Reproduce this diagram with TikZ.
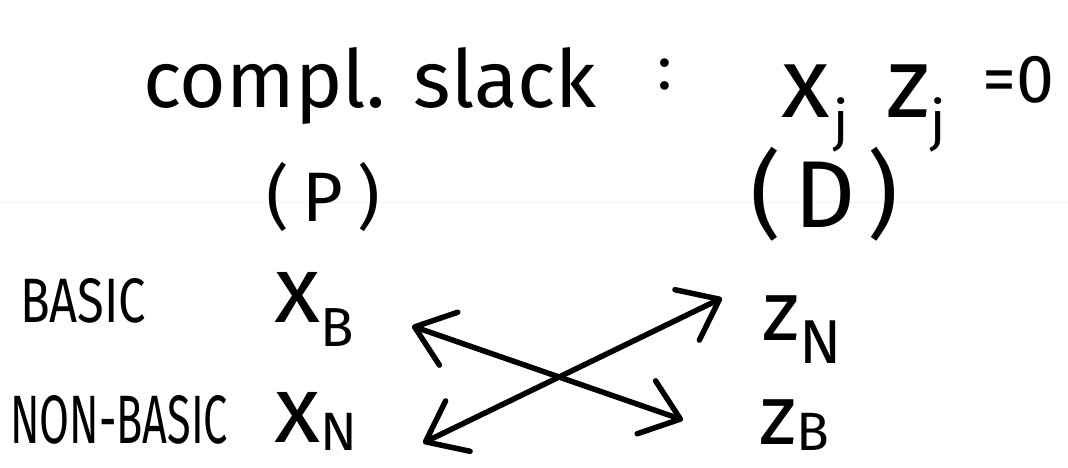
\documentclass[tikz,border=0pt]{standalone}
\usepackage{graphicx}
\usepackage{fontspec}
\setmainfont{Fira Sans}
\usetikzlibrary{arrows.meta}
\newcommand\fs[1]{\fontsize{#1}{#1}\selectfont}
\newcommand\mainv[2]{{\fs{#1}#2}}
\newcommand\subv[3]{\raisebox{#1}{\fs{#2}#3}}
\tikzset{
  lbl/.style={inner sep=0pt, outer sep=0pt, anchor=base west, text=black},
  link/.style={line width=5.5pt, line cap=round, line join=round,
    {Straight Barb[length=36pt,width=56pt,round]}-{Straight Barb[length=36pt,width=56pt,round]}},
}
\begin{document}
\begin{tikzpicture}[x=1pt,y=-1pt]
\fill[white] (0,0) rectangle (1068,468);
\useasboundingbox (0,0) rectangle (1068,468);
\draw[black!4, line width=1pt] (0,202) -- (1068,202);
% title
\node[lbl] (title) at (143,108) {\fs{80}compl. slack};
\node[lbl] (colon) at (657,90) {\fs{62}:};
\node[lbl] (eq) at (781,118) {\mainv{100}{x}\hspace{4pt}\subv{-23pt}{55}{j}\hspace{38pt}\mainv{100}{z}\subv{-23pt}{55}{j}\hspace{36pt}\raisebox{16pt}{\fs{68}=0}};
% headings
\node[lbl] (P) at (266,221) {\fs{70}(\hspace{14pt}P\hspace{14pt})};
\node[lbl] (D) at (750,227) {\fs{95}(\hspace{14pt}D\hspace{12pt})};
% row labels
\node[lbl] (basic) at (20,322) {\resizebox{126pt}{44pt}{BASIC}};
\node[lbl] (nonbasic) at (10,443) {\resizebox{218pt}{48pt}{NON-BASIC}};
% variables
\node[lbl] (xB) at (274,322) {\mainv{95}{x}\subv{-24pt}{55}{B}};
\node[lbl] (xN) at (274,442) {\mainv{95}{x}\subv{-8pt}{54}{N}};
\node[lbl] (zN) at (762,340) {\mainv{85}{z}\subv{-23pt}{62}{N}};
\node[lbl] (zB) at (759,444) {\mainv{85}{z}\subv{-6pt}{54}{B}};
% connectors
\draw[link] ([shift={(138,4)}]xB.base west) -- ([shift={(-76,-24)}]zB.base west);
\draw[link] ([shift={(149,1)}]xN.base west) -- ([shift={(-40,-42)}]zN.base west);
\end{tikzpicture}
\end{document}
